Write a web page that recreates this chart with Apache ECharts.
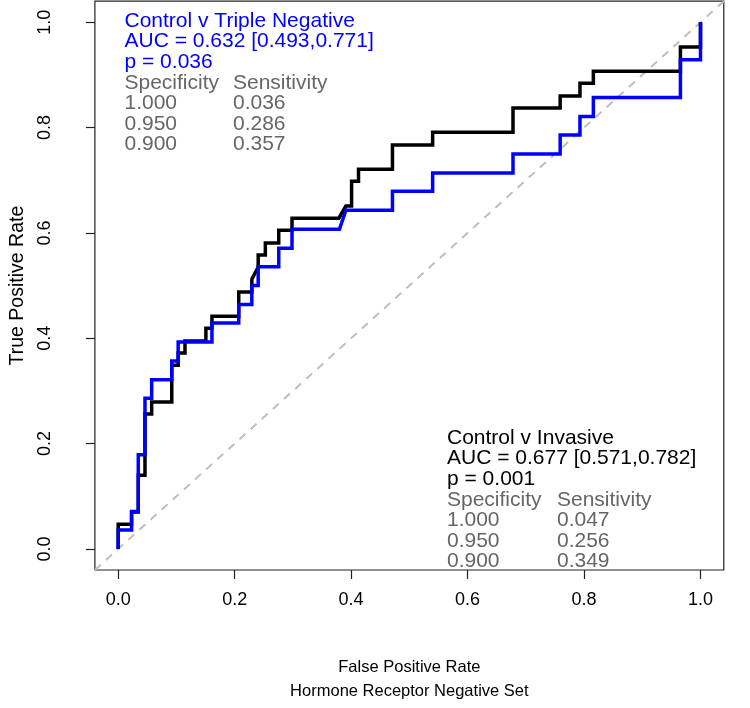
<!DOCTYPE html>
<html>
<head>
<meta charset="utf-8">
<script src="https://cdn.jsdelivr.net/npm/echarts@6/dist/echarts.min.js"></script>
<style>
html,body{margin:0;padding:0;background:#fff;}
#chart{width:750px;height:708px;}
</style>
</head>
<body>
<div id="chart"></div>
<script>
// ---- data ----
var tickValues = [0, 0.2, 0.4, 0.6, 0.8, 1.0];

// Control v Invasive (black)
var invFpr = [0,0,0.023,0.023,0.0345,0.0345,0.046,0.046,0.0575,0.0575,0.092,0.092,0.103,0.103,0.1147,0.1147,0.1506,0.1506,0.161,0.161,0.207,0.207,0.2295,0.2295,0.2404,0.2404,0.2527,0.2527,0.2757,0.2757,0.2985,0.2985,0.379,0.391,0.4008,0.4008,0.4127,0.4127,0.471,0.471,0.540,0.540,0.678,0.678,0.759,0.759,0.793,0.793,0.816,0.816,0.9655,0.9655,1,1];
var invTpr = [0,0.047,0.047,0.070,0.070,0.140,0.140,0.256,0.256,0.279,0.279,0.349,0.349,0.372,0.372,0.395,0.395,0.419,0.419,0.442,0.442,0.488,0.488,0.512,0.535,0.558,0.558,0.581,0.581,0.605,0.605,0.628,0.628,0.651,0.651,0.698,0.698,0.721,0.721,0.767,0.767,0.791,0.791,0.837,0.837,0.860,0.860,0.884,0.884,0.907,0.907,0.953,0.953,1.0];

// Control v Triple Negative (blue)
var tnFpr = [0,0,0.023,0.023,0.0345,0.0345,0.046,0.046,0.0575,0.0575,0.092,0.092,0.103,0.103,0.161,0.161,0.207,0.207,0.2295,0.2295,0.2404,0.2404,0.2757,0.2757,0.2985,0.2985,0.380,0.391,0.471,0.471,0.540,0.540,0.678,0.678,0.759,0.759,0.793,0.793,0.816,0.816,0.9655,0.9655,1,1];
var tnTpr = [0,0.036,0.036,0.071,0.071,0.179,0.179,0.286,0.286,0.321,0.321,0.357,0.357,0.393,0.393,0.429,0.429,0.464,0.464,0.500,0.500,0.536,0.536,0.571,0.571,0.607,0.607,0.643,0.643,0.679,0.679,0.714,0.714,0.750,0.750,0.786,0.786,0.821,0.821,0.857,0.857,0.929,0.929,1.0];

// chance line ends (axis extents)
var chanceX = [-0.04, 1.04];
var chanceY = [-0.04, 1.04];

// annotation texts
var tnHeader = ['Control v Triple Negative', 'AUC = 0.632 [0.493,0.771]', 'p = 0.036'];
var invHeader = ['Control v Invasive', 'AUC = 0.677 [0.571,0.782]', 'p = 0.001'];
var tableHead = ['Specificity', 'Sensitivity'];
var specValues = ['1.000', '0.950', '0.900'];
var tnSens = ['0.036', '0.286', '0.357'];
var invSens = ['0.047', '0.256', '0.349'];

var xTitle = 'False Positive Rate\nHormone Receptor Negative Set';
var yTitle = 'True Positive Rate';

// ---- build ----
function pairs(xs, ys){ return xs.map(function(x,i){ return [x, ys[i]]; }); }

var FONT = '"Liberation Sans", Arial, Helvetica, sans-serif';
var BLUE = '#0000ff';
var GREY = '#666666';

function block(x0, x1, yTop, step, headColor, header, sens){
  var els = [];
  function t(x, y, s, c){
    els.push({type:'text', x:x, y:y, style:{text:s, fill:c, font:'21px ' + FONT, textVerticalAlign:'middle'}});
  }
  for (var i=0;i<header.length;i++) t(x0, yTop + step*i, header[i], headColor);
  var r = header.length;
  t(x0, yTop + step*r, tableHead[0], GREY);
  t(x1, yTop + step*r, tableHead[1], GREY);
  for (var j=0;j<specValues.length;j++){
    t(x0, yTop + step*(r+1+j), specValues[j], GREY);
    t(x1, yTop + step*(r+1+j), sens[j], GREY);
  }
  return els;
}

var chart = echarts.init(document.getElementById('chart'), null, {renderer:'canvas'});
var axisCommon = {
  type:'value', min:-0.04, max:1.04,
  axisLine:{show:false, onZero:false},
  splitLine:{show:false},
  axisTick:{show:true, inside:false, length:9, customValues:tickValues, lineStyle:{color:'#222', width:1.2}},
  axisLabel:{show:true, customValues:tickValues, color:'#000', fontSize:18, fontFamily:FONT,
    formatter:function(v){ return v.toFixed(1); }},
  nameLocation:'middle'
};
var xAxis = echarts.util.merge(echarts.util.clone(axisCommon), {
  name:xTitle, nameGap:85, axisLabel:{margin:21},
  nameTextStyle:{color:'#000', fontSize:16.5, fontFamily:FONT, lineHeight:24}}, true);
var yAxis = echarts.util.merge(echarts.util.clone(axisCommon), {
  name:yTitle, nameGap:64, axisLabel:{margin:41, rotate:90},
  nameTextStyle:{color:'#000', fontSize:19.5, fontFamily:FONT}}, true);

chart.setOption({
  animation:false,
  backgroundColor:'#ffffff',
  grid:{left:82.8, top:1.2, width:641, height:571, show:true, borderColor:'#222', borderWidth:1.2, backgroundColor:'transparent'},
  xAxis: xAxis,
  yAxis: yAxis,
  series:[
    {type:'line', data:pairs(chanceX, chanceY), showSymbol:false, silent:true,
     lineStyle:{color:'#bebebe', width:2, type:[8,7]}, z:1},
    {type:'line', data:pairs(invFpr, invTpr), showSymbol:false, clip:true,
     lineStyle:{color:'#000', width:3.5, join:'miter', cap:'butt'}, z:2},
    {type:'line', data:pairs(tnFpr, tnTpr), showSymbol:false, clip:true,
     lineStyle:{color:BLUE, width:3.5, join:'miter', cap:'butt'}, z:3}
  ],
  graphic: block(124.5, 233, 21, 20.6, BLUE, tnHeader, tnSens)
    .concat(block(447, 557, 438, 20.6, '#000', invHeader, invSens))
});
</script>
</body>
</html>
